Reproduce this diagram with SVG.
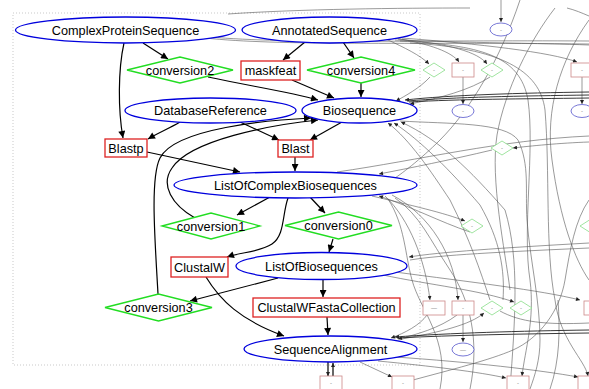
<svg xmlns="http://www.w3.org/2000/svg" width="589" height="389" viewBox="0 0 589 389">
<defs>
<marker id="a" viewBox="0 0 10 10" refX="10" refY="5" markerWidth="9" markerHeight="7" orient="auto" markerUnits="userSpaceOnUse"><path d="M0,0 L10,5 L0,10 z" fill="#000"/></marker>
<marker id="g" viewBox="0 0 10 10" refX="10" refY="5" markerWidth="5" markerHeight="4" orient="auto" markerUnits="userSpaceOnUse"><path d="M0,0 L10,5 L0,10 z" fill="#222"/></marker>
<style>
.bl{fill:#fff;stroke:#0000dd;stroke-width:1.3}
.rd{fill:#fff;stroke:#dd2222;stroke-width:1.3}
.gr{fill:#fff;stroke:#22dd22;stroke-width:1.3}
.sbl{fill:#fff;stroke:#5555cc;stroke-width:0.8}
.srd{fill:#fff;stroke:#cc8888;stroke-width:0.8}
.sgr{fill:#fff;stroke:#88dd88;stroke-width:0.8}
.t{font-family:"Liberation Sans",Arial,sans-serif;font-size:12.7px;fill:#000;text-anchor:middle}
.s{font-family:"Liberation Sans",Arial,sans-serif;font-size:6px;fill:#777;text-anchor:middle}
.e{fill:none;stroke:#000;stroke-width:1.2}
.ge{fill:none;stroke:#555;stroke-width:0.6}
.de{fill:none;stroke:#222;stroke-width:0.9}
</style>
</defs>
<rect width="589" height="389" fill="#fff"/>
<rect x="13" y="13" width="407" height="352" fill="none" stroke="#bbb" stroke-width="0.8" stroke-dasharray="1,2"/>

<g id="connectors">
<!-- gray background edges -->
<path class="ge" d="M228,14 C300,9 400,8 470,8"/>
<path class="ge" d="M501,0 L501,22" marker-end="url(#g)"/>
<path class="ge" d="M386,39 C405,48 420,55 429,64" marker-end="url(#g)"/>
<path class="ge" d="M395,38 C430,44 452,52 459,62" marker-end="url(#g)"/>
<path class="ge" d="M398,39 C450,44 478,52 487,64" marker-end="url(#g)"/>
<path class="ge" d="M402,38 C480,44 550,52 577,62" marker-end="url(#g)"/>
<path class="ge" d="M205,38 C280,46 400,42 589,44"/>
<path class="ge" d="M210,37 C290,44 420,40 589,41"/>
<path class="ge" d="M395,40 C470,43 540,43 589,45"/>
<path class="ge" d="M430,77 C420,88 405,96 396,101" marker-end="url(#g)"/>
<path class="ge" d="M490,77 C470,90 440,98 410,104" marker-end="url(#g)"/>
<path class="ge" d="M463,77 L463,104" marker-end="url(#g)"/>
<path class="ge" d="M582,77 L582,104" marker-end="url(#g)"/>
<path class="ge" d="M555,8 C530,40 505,90 497,135 C490,180 505,250 510,290"/>
<path class="ge" d="M567,8 C575,10 582,13 589,16"/>
<path class="ge" d="M589,20 C560,60 545,110 552,160 C560,220 575,260 589,280"/>
<path class="ge" d="M400,41 C480,45 520,55 528,100 C535,150 522,230 530,280 C535,320 525,350 522,376" marker-end="url(#g)"/>
<path class="ge" d="M410,43 C500,48 540,70 545,110 C550,170 545,250 555,300 C560,340 585,360 588,376" marker-end="url(#g)"/>
<path class="ge" d="M520,0 C500,60 470,110 440,140 C420,160 400,175 392,180"/>
<path class="ge" d="M400,121 C450,124 505,122 518,140 C530,165 525,190 527,220 C530,260 540,300 540,340 C540,360 535,375 530,389"/>
<path class="ge" d="M589,142 C560,143 530,146 513,148" marker-end="url(#g)"/>
<path class="ge" d="M492,150 C450,160 410,168 379,174" marker-end="url(#g)"/>
<path class="ge" d="M337,172 C420,160 500,140 589,136"/>
<path class="ge" d="M450,200 C430,170 410,140 388,123" marker-end="url(#g)"/>
<path class="ge" d="M480,205 C450,170 420,140 394,123" marker-end="url(#g)"/>
<path class="ge" d="M505,210 C470,170 440,140 401,122" marker-end="url(#g)"/>
<path class="ge" d="M450,200 C470,240 480,270 490,300"/>
<path class="ge" d="M480,205 C500,240 505,270 503,300"/>
<path class="ge" d="M505,210 C520,260 515,320 510,389"/>
<path class="ge" d="M372,196 C410,205 445,213 465,221" marker-end="url(#g)"/>
<path class="ge" d="M470,232 C440,222 410,206 379,196" marker-end="url(#g)"/>
<path class="ge" d="M385,196 C410,220 425,260 430,300" marker-end="url(#g)"/>
<path class="ge" d="M392,195 C430,215 455,255 458,300" marker-end="url(#g)"/>
<path class="ge" d="M395,198 C420,215 430,240 450,270 C470,300 480,340 470,389"/>
<path class="ge" d="M388,199 C405,225 405,255 412,280 C420,310 450,340 440,389"/>
<path class="ge" d="M589,243 C500,248 440,252 409,257" marker-end="url(#g)"/>
<path class="ge" d="M589,248 C500,252 440,255 410,260"/>
<path class="ge" d="M383,275 C430,285 480,290 514,302" marker-end="url(#g)"/>
<path class="ge" d="M395,272 C470,282 540,290 580,300" marker-end="url(#g)"/>
<path class="ge" d="M589,225 L583,226"/>
<path class="ge" d="M427,315 C420,325 405,333 391,338" marker-end="url(#g)"/>
<path class="ge" d="M457,315 C440,328 415,335 398,339" marker-end="url(#g)"/>
<path class="ge" d="M402,339 C440,332 470,325 484,313" marker-end="url(#g)"/>
<path class="ge" d="M463,315 L463,342" marker-end="url(#g)"/>
<path class="ge" d="M500,311 C520,322 545,325 589,323"/>
<path class="ge" d="M360,362 L392,377" marker-end="url(#g)"/>
<path class="ge" d="M378,361 C430,366 480,372 506,378" marker-end="url(#g)"/>
<path class="ge" d="M395,357 C470,362 540,370 578,377" marker-end="url(#g)"/>
<path class="ge" d="M413,380 C450,370 490,360 513,350 C540,338 560,310 565,280 C570,250 575,220 589,200"/>
<path class="ge" d="M558,300 C560,330 560,360 550,389"/>
<!-- dark bundles -->
<path class="de" d="M589,92 C520,93 450,95 405,100" marker-end="url(#g)"/>
<path class="de" d="M589,95 C520,96 455,97 407,101"/>
<path class="de" d="M589,98 C520,99 460,99 409,102"/>
<path class="de" d="M589,330 C520,331 450,333 395,337" marker-end="url(#g)"/>
<path class="de" d="M589,333 C520,334 455,335 397,338"/>
<!-- main black edges -->
<path class="e" d="M143,43 L168,59" marker-end="url(#a)"/>
<path class="e" d="M305,42 L283,60" marker-end="url(#a)"/>
<path class="e" d="M343,42 L354,58" marker-end="url(#a)"/>
<path class="e" d="M208,77 C250,86 290,92 318,100" marker-end="url(#a)"/>
<path class="e" d="M292,80 L334,98" marker-end="url(#a)"/>
<path class="e" d="M361,83 L361,97" marker-end="url(#a)"/>
<path class="e" d="M180,122 C170,128 158,133 148,139" marker-end="url(#a)"/>
<path class="e" d="M240,122 L279,140" marker-end="url(#a)"/>
<path class="e" d="M342,122 L310,140" marker-end="url(#a)"/>
<path class="e" d="M124,43 C118,70 118,110 123,138" marker-end="url(#a)"/>
<path class="e" d="M147,152 L240,172" marker-end="url(#a)"/>
<path class="e" d="M295,157 L295,171" marker-end="url(#a)"/>
<path class="e" d="M195,218 C172,205 160,185 172,168 C190,140 270,125 318,120" marker-end="url(#a)"/>
<path class="e" d="M158,294 C155,240 150,178 160,158 C175,128 270,120 311,118" marker-end="url(#a)"/>
<path class="e" d="M270,197 L237,215" marker-end="url(#a)"/>
<path class="e" d="M310,197 L325,213" marker-end="url(#a)"/>
<path class="e" d="M288,198 C282,215 285,235 272,244 C260,252 242,252 227,257" marker-end="url(#a)"/>
<path class="e" d="M333,239 L329,252" marker-end="url(#a)"/>
<path class="e" d="M206,277 C220,300 240,320 284,336" marker-end="url(#a)"/>
<path class="e" d="M278,278 L190,301" marker-end="url(#a)"/>
<path class="e" d="M323,280 L323,297" marker-end="url(#a)"/>
<path class="e" d="M327,317 L328,335" marker-end="url(#a)"/>
<path class="e" d="M328,362 L328,376" stroke-width="0.9" marker-end="url(#g)"/>
<path class="e" d="M333,376 L333,363" stroke-width="0.9" marker-end="url(#g)"/>
</g>

<g id="ComplexProteinSequence"><ellipse class="bl" cx="125.5" cy="30" rx="110" ry="13"/><text class="t" x="125.5" y="34.5">ComplexProteinSequence</text></g>
<g id="AnnotatedSequence"><ellipse class="bl" cx="329.5" cy="30" rx="87.5" ry="13"/><text class="t" x="329.5" y="34.5">AnnotatedSequence</text></g>
<g id="conversion2"><polygon class="gr" points="127,70 180,57 233,70 180,83"/><text class="t" x="180" y="74.5">conversion2</text></g>
<g id="maskfeat"><rect class="rd" x="241" y="61" width="59" height="19"/><text class="t" x="270.5" y="75">maskfeat</text></g>
<g id="conversion4"><polygon class="gr" points="307,70 361,57 415,70 361,83"/><text class="t" x="361" y="74.5">conversion4</text></g>
<g id="DatabaseReference"><ellipse class="bl" cx="210.5" cy="110.5" rx="85.5" ry="12.5"/><text class="t" x="210.5" y="115">DatabaseReference</text></g>
<g id="Biosequence"><ellipse class="bl" cx="359.5" cy="110.5" rx="57.5" ry="12.5"/><text class="t" x="359.5" y="115">Biosequence</text></g>
<g id="Blastp"><rect class="rd" x="105" y="139" width="42" height="18"/><text class="t" x="126" y="152.5">Blastp</text></g>
<g id="Blast"><rect class="rd" x="278" y="140" width="35" height="17"/><text class="t" x="295.5" y="153">Blast</text></g>
<g id="ListOfComplexBiosequences"><ellipse class="bl" cx="295.5" cy="185" rx="121.5" ry="13"/><text class="t" x="295.5" y="189.5">ListOfComplexBiosequences</text></g>
<g id="conversion1"><polygon class="gr" points="162,226 211,213 260,226 211,239"/><text class="t" x="211" y="230.5">conversion1</text></g>
<g id="conversion0"><polygon class="gr" points="285,225.5 338.5,212 392,225.5 338.5,239"/><text class="t" x="338.5" y="230">conversion0</text></g>
<g id="ClustalW"><rect class="rd" x="171" y="257" width="57" height="20"/><text class="t" x="199.5" y="271.5">ClustalW</text></g>
<g id="ListOfBiosequences"><ellipse class="bl" cx="321.5" cy="266" rx="85.5" ry="13.5"/><text class="t" x="321.5" y="270.5">ListOfBiosequences</text></g>
<g id="ClustalWFastaCollection"><rect class="rd" x="253" y="298" width="147" height="19"/><text class="t" x="326.5" y="312">ClustalWFastaCollection</text></g>
<g id="conversion3"><polygon class="gr" points="105,307.5 158.5,294 212,307.5 158.5,321"/><text class="t" x="158.5" y="312">conversion3</text></g>
<g id="SequenceAlignment"><ellipse class="bl" cx="330.5" cy="349" rx="86.5" ry="13"/><text class="t" x="330.5" y="353.5">SequenceAlignment</text></g>

<!-- small right-side nodes -->
<g id="n_e1"><ellipse class="sbl" cx="501" cy="29.5" rx="11" ry="6.5"/><text class="s" x="501" y="31.5">-</text></g>
<g id="n_d1"><polygon class="sgr" points="423,70 434,63 445,70 434,77"/><text class="s" x="434" y="72">-</text></g>
<g id="n_r1"><rect class="srd" x="452" y="63" width="22" height="14"/><text class="s" x="463" y="72">-</text></g>
<g id="n_d2"><polygon class="sgr" points="481,70 492,63 503,70 492,77"/><text class="s" x="492" y="72">-</text></g>
<g id="n_r2"><rect class="srd" x="571" y="63" width="22" height="14"/><text class="s" x="582" y="72">-</text></g>
<g id="n_e2"><ellipse class="sbl" cx="463" cy="111" rx="11" ry="6.5"/><text class="s" x="463" y="113">-</text></g>
<g id="n_e3"><ellipse class="sbl" cx="582" cy="111" rx="11" ry="6.5"/><text class="s" x="582" y="113">-</text></g>
<g id="n_d3"><polygon class="sgr" points="491,148 502,141 513,148 502,155"/><text class="s" x="502" y="150">-</text></g>
<g id="n_d4"><polygon class="sgr" points="461,226 472,219 483,226 472,233"/><text class="s" x="472" y="228">-</text></g>
<g id="n_d5"><polygon class="sgr" points="580,226 591,219 602,226 591,233"/></g>
<g id="n_r3"><rect class="srd" x="423" y="301" width="22" height="14"/><text class="s" x="434" y="310">—</text></g>
<g id="n_r4"><rect class="srd" x="452" y="301" width="22" height="14"/><text class="s" x="463" y="310">-</text></g>
<g id="n_d6"><polygon class="sgr" points="481,308 492,301 503,308 492,315"/><text class="s" x="492" y="310">-</text></g>
<g id="n_d7"><polygon class="sgr" points="510,308 521,301 532,308 521,315"/><text class="s" x="521" y="310">-</text></g>
<g id="n_r5"><rect class="srd" x="584" y="301" width="22" height="14"/></g>
<g id="n_e4"><ellipse class="sbl" cx="463" cy="349.5" rx="11" ry="6.5"/><text class="s" x="463" y="351.5">—</text></g>
<g id="n_r6"><rect class="srd" x="320" y="376" width="22" height="14"/><text class="s" x="331" y="385">-</text></g>
<g id="n_r7"><rect class="srd" x="392" y="376" width="22" height="14"/><text class="s" x="403" y="385">-</text></g>
<g id="n_r8"><rect class="srd" x="507" y="376" width="22" height="14"/><text class="s" x="518" y="385">-</text></g>
<g id="n_r9"><rect class="srd" x="578" y="376" width="22" height="14"/></g>
</svg>
